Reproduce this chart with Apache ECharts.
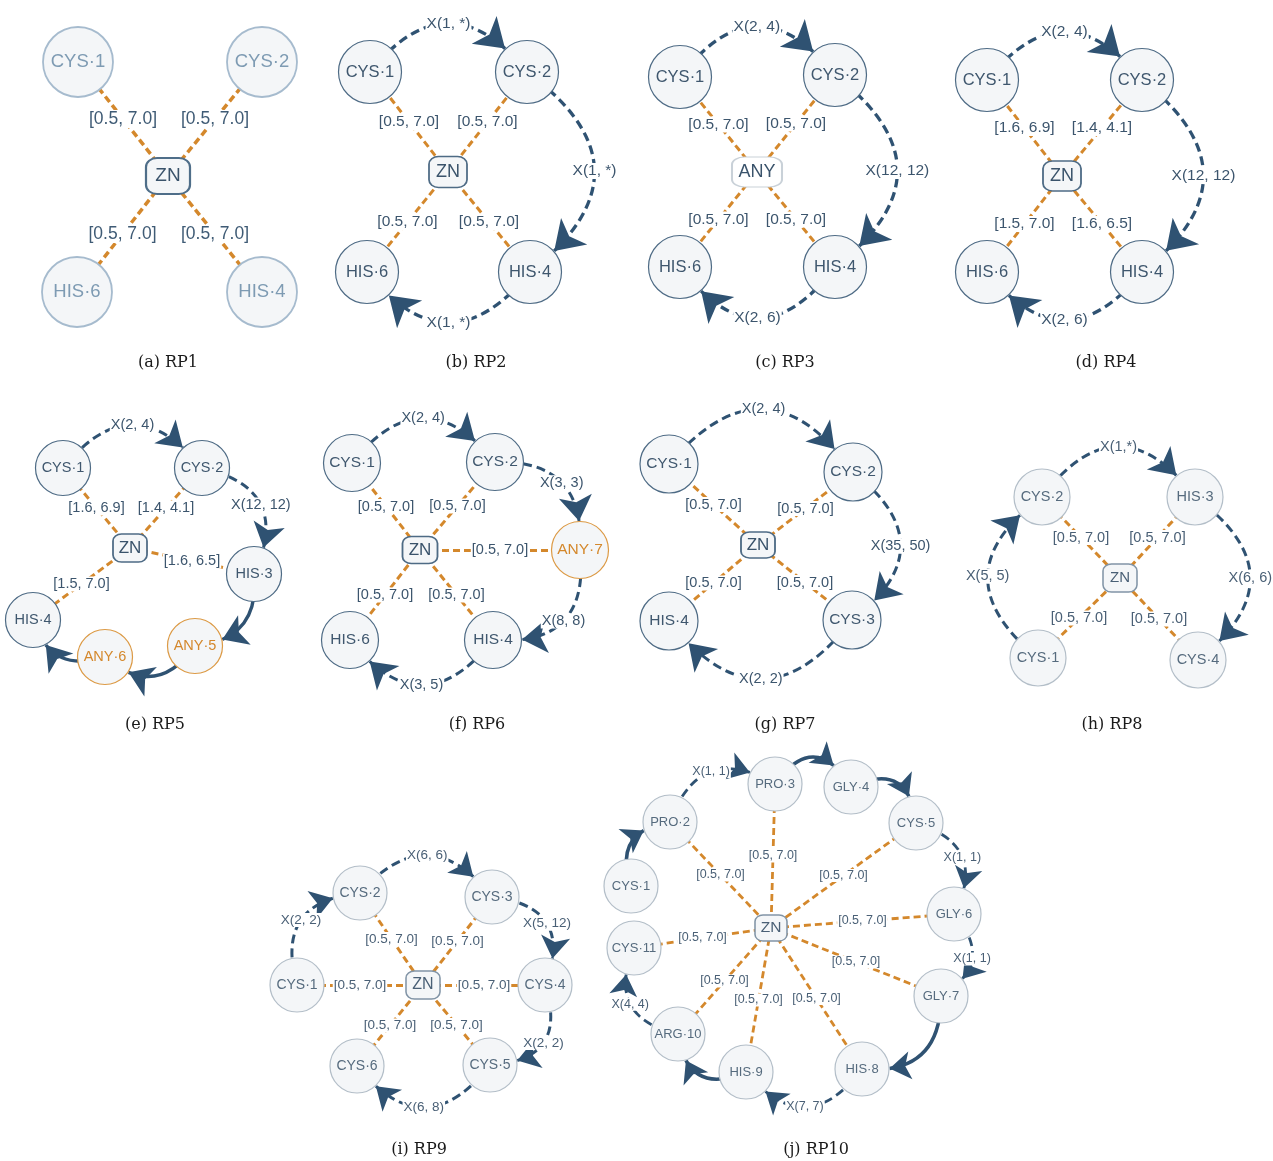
<!DOCTYPE html>
<html><head><meta charset="utf-8">
<script src="https://cdn.jsdelivr.net/npm/echarts@6/dist/echarts.min.js"></script>
<style>html,body{margin:0;padding:0;background:#fff}#c{width:1273px;height:1161px}</style>
</head><body><div id="c"></div>
<script>
// ================= DATA =================
// Each panel: residue nodes with their layout position (x, y in figure units),
// distance constraints to the metal (bonds + labels) and sequence links (gaps + labels).

// (a) RP1
const rp1Nodes = ['CYS·1','CYS·2','ZN','HIS·6','HIS·4'];
const rp1X = [78,262,168,77,262];
const rp1Y = [62,62,176,292,292];
const rp1Bonds = [[0,2],[1,2],[3,2],[4,2]];
const rp1BondLabels = ['[0.5, 7.0]','[0.5, 7.0]','[0.5, 7.0]','[0.5, 7.0]'];
const rp1Links = [];
const rp1LinkLabels = [];
const rp1LinkKinds = [];

// (b) RP2
const rp2Nodes = ['CYS·1','CYS·2','ZN','HIS·6','HIS·4'];
const rp2X = [370,527,448,367,530];
const rp2Y = [72,72,172,272,272];
const rp2Bonds = [[0,2],[1,2],[3,2],[4,2]];
const rp2BondLabels = ['[0.5, 7.0]','[0.5, 7.0]','[0.5, 7.0]','[0.5, 7.0]'];
const rp2Links = [[0,1],[1,4],[4,3]];
const rp2LinkLabels = ['X(1, *)','X(1, *)','X(1, *)'];
const rp2LinkKinds = ['gap','gap','gap'];

// (c) RP3
const rp3Nodes = ['CYS·1','CYS·2','ANY','HIS·6','HIS·4'];
const rp3X = [680,835,757,680,835];
const rp3Y = [77,75,172,267,267];
const rp3Bonds = [[0,2],[1,2],[3,2],[4,2]];
const rp3BondLabels = ['[0.5, 7.0]','[0.5, 7.0]','[0.5, 7.0]','[0.5, 7.0]'];
const rp3Links = [[0,1],[1,4],[4,3]];
const rp3LinkLabels = ['X(2, 4)','X(12, 12)','X(2, 6)'];
const rp3LinkKinds = ['gap','gap','gap'];

// (d) RP4
const rp4Nodes = ['CYS·1','CYS·2','ZN','HIS·6','HIS·4'];
const rp4X = [987,1142,1062,987,1142];
const rp4Y = [80,80,176,272,272];
const rp4Bonds = [[0,2],[1,2],[3,2],[4,2]];
const rp4BondLabels = ['[1.6, 6.9]','[1.4, 4.1]','[1.5, 7.0]','[1.6, 6.5]'];
const rp4Links = [[0,1],[1,4],[4,3]];
const rp4LinkLabels = ['X(2, 4)','X(12, 12)','X(2, 6)'];
const rp4LinkKinds = ['gap','gap','gap'];

// (e) RP5
const rp5Nodes = ['CYS·1','CYS·2','ZN','HIS·3','HIS·4','ANY·6','ANY·5'];
const rp5X = [63,202,130,254,33,105,195];
const rp5Y = [468,468,548,574,620,657,646];
const rp5Bonds = [[0,2],[1,2],[2,3],[2,4]];
const rp5BondLabels = ['[1.6, 6.9]','[1.4, 4.1]','[1.6, 6.5]','[1.5, 7.0]'];
const rp5Links = [[0,1],[1,3],[3,6],[6,5],[5,4]];
const rp5LinkLabels = ['X(2, 4)','X(12, 12)','','',''];
const rp5LinkKinds = ['gap','gap','adj','adj','adj'];

// (f) RP6
const rp6Nodes = ['CYS·1','CYS·2','ZN','ANY·7','HIS·6','HIS·4'];
const rp6X = [352,495,420,580,350,493];
const rp6Y = [463,462,550,550,640,640];
const rp6Bonds = [[0,2],[1,2],[2,3],[4,2],[5,2]];
const rp6BondLabels = ['[0.5, 7.0]','[0.5, 7.0]','[0.5, 7.0]','[0.5, 7.0]','[0.5, 7.0]'];
const rp6Links = [[0,1],[1,3],[3,5],[5,4]];
const rp6LinkLabels = ['X(2, 4)','X(3, 3)','X(8, 8)','X(3, 5)'];
const rp6LinkKinds = ['gap','gap','gap','gap'];

// (g) RP7
const rp7Nodes = ['CYS·1','CYS·2','ZN','HIS·4','CYS·3'];
const rp7X = [669,853,758,669,852];
const rp7Y = [464,472,545,621,620];
const rp7Bonds = [[0,2],[1,2],[3,2],[4,2]];
const rp7BondLabels = ['[0.5, 7.0]','[0.5, 7.0]','[0.5, 7.0]','[0.5, 7.0]'];
const rp7Links = [[0,1],[1,4],[4,3]];
const rp7LinkLabels = ['X(2, 4)','X(35, 50)','X(2, 2)'];
const rp7LinkKinds = ['gap','gap','gap'];

// (h) RP8
const rp8Nodes = ['CYS·2','HIS·3','ZN','CYS·1','CYS·4'];
const rp8X = [1042,1195,1120,1038,1198];
const rp8Y = [497,497,578,658,660];
const rp8Bonds = [[0,2],[1,2],[3,2],[4,2]];
const rp8BondLabels = ['[0.5, 7.0]','[0.5, 7.0]','[0.5, 7.0]','[0.5, 7.0]'];
const rp8Links = [[3,0],[0,1],[1,4]];
const rp8LinkLabels = ['X(5, 5)','X(1,*)','X(6, 6)'];
const rp8LinkKinds = ['gap','gap','gap'];

// (i) RP9
const rp9Nodes = ['CYS·1','CYS·2','CYS·3','CYS·4','CYS·5','CYS·6','ZN'];
const rp9X = [297,360,492,545,490,357,423];
const rp9Y = [985,893,897,985,1065,1066,985];
const rp9Bonds = [[0,6],[1,6],[2,6],[6,3],[4,6],[5,6]];
const rp9BondLabels = ['[0.5, 7.0]','[0.5, 7.0]','[0.5, 7.0]','[0.5, 7.0]','[0.5, 7.0]','[0.5, 7.0]'];
const rp9Links = [[0,1],[1,2],[2,3],[3,4],[4,5]];
const rp9LinkLabels = ['X(2, 2)','X(6, 6)','X(5, 12)','X(2, 2)','X(6, 8)'];
const rp9LinkKinds = ['gap','gap','gap','gap','gap'];

// (j) RP10
const rp10Nodes = ['CYS·1','PRO·2','PRO·3','GLY·4','CYS·5','GLY·6','GLY·7','HIS·8','HIS·9','ARG·10','CYS·11','ZN'];
const rp10X = [631,670,775,851,916,954,941,862,746,678,634,771];
const rp10Y = [886,822,784,787,823,914,996,1069,1072,1034,948,928];
const rp10Bonds = [[1,11],[2,11],[4,11],[11,5],[11,6],[11,7],[11,8],[11,9],[10,11]];
const rp10BondLabels = ['[0.5, 7.0]','[0.5, 7.0]','[0.5, 7.0]','[0.5, 7.0]','[0.5, 7.0]','[0.5, 7.0]','[0.5, 7.0]','[0.5, 7.0]','[0.5, 7.0]'];
const rp10Links = [[0,1],[1,2],[2,3],[3,4],[4,5],[5,6],[6,7],[7,8],[8,9],[9,10]];
const rp10LinkLabels = ['','X(1, 1)','','','X(1, 1)','X(1, 1)','','X(7, 7)','','X(4, 4)'];
const rp10LinkKinds = ['adj','gap','adj','adj','gap','gap','adj','gap','adj','gap'];

// captions
const captions = ['(a) RP1','(b) RP2','(c) RP3','(d) RP4','(e) RP5','(f) RP6','(g) RP7','(h) RP8','(i) RP9','(j) RP10'];

// ================= STYLE / LAYOUT =================
const SANS = '"Liberation Sans", Arial, Helvetica, sans-serif';
const SERIF = '"DejaVu Serif", "Liberation Serif", serif';
const ORANGE = '#d4882c';
const ORANGE_NODE = '#dc9a45';
const BLUE = '#2f5272';
const FILL = '#f4f6f8';

// curve bend of each sequence link (visual only)
const bends = [
  [], [0.62,0.66,0.62], [0.64,0.65,0.66], [0.62,0.64,0.62],
  [0.62,0.62,0.5,0.55,0.5], [0.62,0.55,0.6,0.63], [0.64,0.65,0.64],
  [0.65,0.66,0.66], [0.6,0.6,0.65,0.65,0.63],
  [0.6,0.6,0.75,0.7,0.6,0.6,0.55,0.63,0.65,0.6]
];
const capX = [168,476,785,1106,155,477,785,1112,419,816];
const capY = [363,363,363,363,725,725,725,725,1150,1150];

const darkSt = {nodeBorder:'#4e6b85', nodeBW:1.2, nodeText:'#3f576e', boxBorder:'#4e6b85', boxBW:1.6, boxText:'#3a536b', labColor:'#3c556d'};
const lightSt = {nodeBorder:'#b3bec8', nodeBW:1.2, nodeText:'#566b7e', boxBorder:'#8194a6', boxBW:1.4, boxText:'#4a6076', labColor:'#4a6076'};
const STY = [
  Object.assign({}, darkSt, {r:35, box:[44,36], nodeFont:18.5, boxFont:19, labFont:17.5, nodeBorder:'#a6bbce', nodeBW:1.8, nodeText:'#7e9bb3', boxBorder:'#4f6e89', boxBW:2, labColor:'#3f5b75', bondW:3.5, gapW:3, solidW:3, arrow:[12,28]}),
  Object.assign({}, darkSt, {r:31.5, box:[38,31], nodeFont:16.5, boxFont:18, labFont:15.5, bondW:3, gapW:3.3, solidW:3, arrow:[12,28]}),
  Object.assign({}, darkSt, {r:31.5, box:[38,31], anyBox:[50,30], nodeFont:16.5, boxFont:18, labFont:15.5, bondW:3, gapW:3.3, solidW:3, arrow:[12,28]}),
  Object.assign({}, darkSt, {r:31.5, box:[38,30], nodeFont:16.5, boxFont:18, labFont:15.5, bondW:3, gapW:3.3, solidW:3, arrow:[12,28]}),
  Object.assign({}, darkSt, {r:27.5, box:[34,28], nodeFont:14.5, boxFont:17, labFont:14.5, bondW:3, gapW:3, solidW:3.4, arrow:[11,24]}),
  Object.assign({}, darkSt, {r:28.5, box:[35,27], nodeFont:15.5, boxFont:17, labFont:14.5, bondW:3, gapW:3, solidW:3, arrow:[11,25]}),
  Object.assign({}, darkSt, {r:29, box:[34,26], nodeFont:15.5, boxFont:17, labFont:14.5, bondW:3, gapW:3, solidW:3, arrow:[11,25]}),
  Object.assign({}, lightSt, {r:28, box:[34,28], nodeFont:14.5, boxFont:15, labFont:14.5, bondW:3, gapW:3, solidW:3, arrow:[11,25]}),
  Object.assign({}, lightSt, {r:27, box:[34,28], nodeFont:14, boxFont:16, labFont:13.5, bondW:3, gapW:3, solidW:3, arrow:[10,22]}),
  Object.assign({}, lightSt, {r:27, box:[32,26], nodeFont:13, boxFont:15.5, labFont:12.5, bondW:2.8, gapW:2.8, solidW:3.5, arrow:[10,21]})
];

const panels = [
  [rp1Nodes, rp1X, rp1Y, rp1Bonds, rp1BondLabels, rp1Links, rp1LinkLabels, rp1LinkKinds],
  [rp2Nodes, rp2X, rp2Y, rp2Bonds, rp2BondLabels, rp2Links, rp2LinkLabels, rp2LinkKinds],
  [rp3Nodes, rp3X, rp3Y, rp3Bonds, rp3BondLabels, rp3Links, rp3LinkLabels, rp3LinkKinds],
  [rp4Nodes, rp4X, rp4Y, rp4Bonds, rp4BondLabels, rp4Links, rp4LinkLabels, rp4LinkKinds],
  [rp5Nodes, rp5X, rp5Y, rp5Bonds, rp5BondLabels, rp5Links, rp5LinkLabels, rp5LinkKinds],
  [rp6Nodes, rp6X, rp6Y, rp6Bonds, rp6BondLabels, rp6Links, rp6LinkLabels, rp6LinkKinds],
  [rp7Nodes, rp7X, rp7Y, rp7Bonds, rp7BondLabels, rp7Links, rp7LinkLabels, rp7LinkKinds],
  [rp8Nodes, rp8X, rp8Y, rp8Bonds, rp8BondLabels, rp8Links, rp8LinkLabels, rp8LinkKinds],
  [rp9Nodes, rp9X, rp9Y, rp9Bonds, rp9BondLabels, rp9Links, rp9LinkLabels, rp9LinkKinds],
  [rp10Nodes, rp10X, rp10Y, rp10Bonds, rp10BondLabels, rp10Links, rp10LinkLabels, rp10LinkKinds]
];

// ================= BUILD =================
function nodeItem(name, x, y, st) {
  const isBox = name === 'ZN' || name === 'ANY';
  const isAny = name.indexOf('ANY·') === 0;
  const isAnyBox = name === 'ANY';
  return {
    name: name,
    value: [x, y],
    symbol: isBox ? 'roundRect' : 'circle',
    symbolSize: isBox ? (isAnyBox ? st.anyBox : st.box) : 2 * st.r,
    itemStyle: {
      color: isAnyBox ? '#ffffff' : FILL,
      borderColor: isAny ? ORANGE_NODE : (isAnyBox ? '#c9d1d8' : (isBox ? st.boxBorder : st.nodeBorder)),
      borderWidth: isBox ? st.boxBW : st.nodeBW
    },
    label: {
      show: true, position: 'inside', formatter: '{b}',
      color: isAny ? ORANGE : (isBox ? st.boxText : st.nodeText),
      fontSize: isBox ? st.boxFont : st.nodeFont,
      fontFamily: SANS
    }
  };
}

const series = [];
const labelData = [], labelText = [], labelSt = [];

panels.forEach(function (p, pi) {
  const nodes = p[0], xs = p[1], ys = p[2], bonds = p[3], bondLabels = p[4];
  const links = p[5], linkLabels = p[6], kinds = p[7];
  const st = STY[pi];
  series.push({
    type: 'graph', coordinateSystem: 'cartesian2d', z: 3, silent: true, animation: false,
    data: nodes.map(function (n, i) { return nodeItem(n, xs[i], ys[i], st); }),
    links: bonds.map(function (b) { return {source: b[0], target: b[1]}; }),
    lineStyle: {color: ORANGE, width: st.bondW, type: [7, 4], opacity: 1, curveness: 0},
    emphasis: {disabled: true}
  });
  bonds.forEach(function (b, k) {
    labelData.push([xs[b[0]], ys[b[0]], xs[b[1]], ys[b[1]], 0]);
    labelText.push(bondLabels[k]);
    labelSt.push(st);
  });
  if (links.length) {
    series.push({
      type: 'graph', coordinateSystem: 'cartesian2d', z: 2, silent: true, animation: false,
      data: nodes.map(function (n, i) {
        return {name: n, value: [xs[i], ys[i]], symbol: 'circle',
          symbolSize: 2 * st.r + st.nodeBW, itemStyle: {opacity: 0}, label: {show: false}};
      }),
      links: links.map(function (l, k) {
        const solid = kinds[k] === 'adj';
        return {
          source: l[0], target: l[1], symbol: ['none', 'arrow'], symbolSize: st.arrow,
          lineStyle: {color: BLUE, opacity: 1, width: solid ? st.solidW : st.gapW,
            type: solid ? 'solid' : [9, 5], curveness: bends[pi][k]}
        };
      }),
      lineStyle: {color: BLUE, opacity: 1},
      emphasis: {disabled: true}
    });
    links.forEach(function (l, k) {
      if (!linkLabels[k]) return;
      labelData.push([xs[l[0]], ys[l[0]], xs[l[1]], ys[l[1]], bends[pi][k]]);
      labelText.push(linkLabels[k]);
      labelSt.push(st);
    });
  }
});

series.push({
  type: 'custom', coordinateSystem: 'cartesian2d', z: 10, silent: true, animation: false, clip: false,
  data: labelData,
  renderItem: function (params, api) {
    const i = params.dataIndex;
    const p1 = api.coord([api.value(0), api.value(1)]);
    const p2 = api.coord([api.value(2), api.value(3)]);
    const c = api.value(4);
    const dx = p2[0] - p1[0], dy = p2[1] - p1[1];
    const x = (p1[0] + p2[0]) / 2 + dy * c / 2;
    const y = (p1[1] + p2[1]) / 2 - dx * c / 2;
    const st = labelSt[i];
    return {
      type: 'text', x: x, y: y,
      style: {text: labelText[i], fill: st.labColor, fontSize: st.labFont, fontFamily: SANS,
        align: 'center', verticalAlign: 'middle', backgroundColor: '#ffffff', padding: [0, 1]}
    };
  }
});

const graphic = captions.map(function (t, i) {
  return {type: 'text', x: capX[i], y: capY[i], silent: true,
    style: {text: t, fill: '#1a1a1a', fontSize: 16, fontFamily: SERIF, align: 'center', verticalAlign: 'middle'}};
});

const chart = echarts.init(document.getElementById('c'), null, {renderer: 'canvas'});
chart.setOption({
  backgroundColor: '#ffffff',
  animation: false,
  grid: {left: 0, right: 0, top: 0, bottom: 0},
  xAxis: {type: 'value', min: 0, max: 1273, show: false},
  yAxis: {type: 'value', min: 0, max: 1161, inverse: true, show: false},
  series: series,
  graphic: graphic
});
</script></body></html>
